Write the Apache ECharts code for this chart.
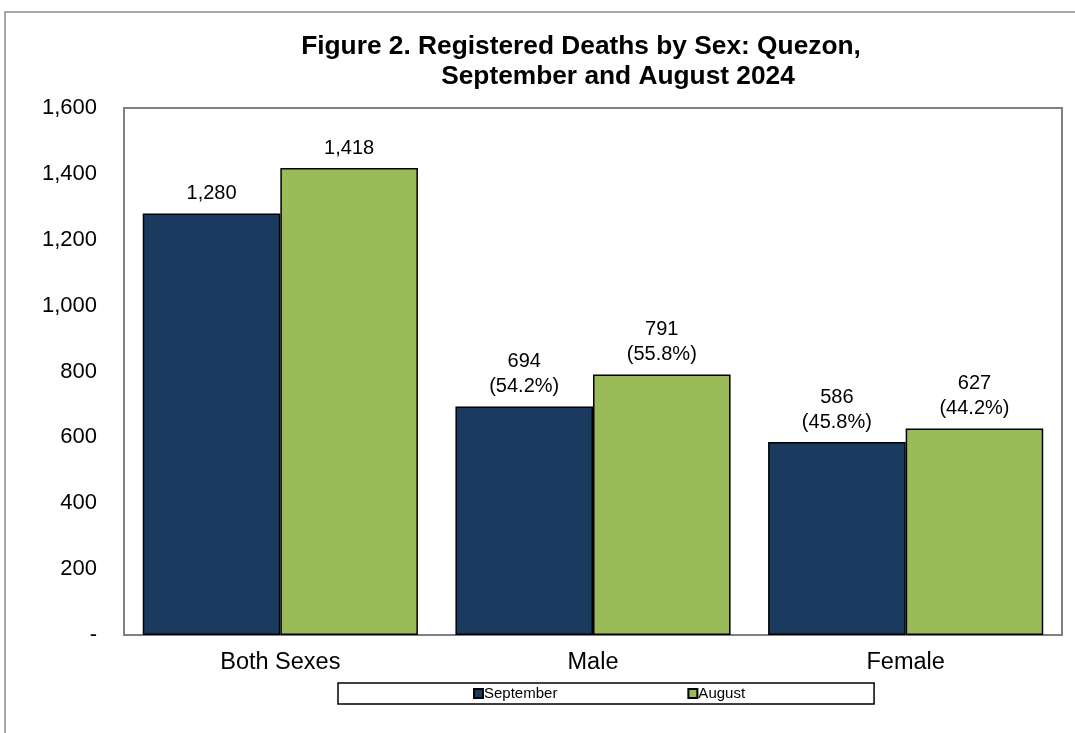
<!DOCTYPE html>
<html>
<head>
<meta charset="utf-8">
<script src="https://cdn.jsdelivr.net/npm/echarts@6/dist/echarts.min.js"></script>
<style>html,body{margin:0;padding:0;background:#fff;}#c{width:1075px;height:733px;}</style>
</head>
<body>
<div id="c"></div>
<script>
const categories = ['Both Sexes', 'Male', 'Female'];
const september = [1280, 694, 586];
const august = [1418, 791, 627];
const septemberPct = ['', '54.2%', '45.8%'];
const augustPct = ['', '55.8%', '44.2%'];
const yTicks = [0, 200, 400, 600, 800, 1000, 1200, 1400, 1600];

const fmt = v => v === 0 ? '-' : v.toLocaleString('en-US');
function labelFor(pcts) {
  return p => {
    const pc = pcts[p.dataIndex];
    return pc ? fmt(p.value) + '\n(' + pc + ')' : fmt(p.value);
  };
}

const chart = echarts.init(document.getElementById('c'));
const font = 'Arial, "Liberation Sans", sans-serif';
chart.setOption({
  animation: false,
  backgroundColor: '#fff',
  textStyle: { fontFamily: font },
  graphic: [{
    type: 'rect', silent: true, z: -10,
    shape: { x: 5, y: 12, width: 1200, height: 900 },
    style: { fill: 'none', stroke: '#8c8c8c', lineWidth: 1.5 }
  }],
  title: [{
    text: 'Figure 2. Registered Deaths by Sex: Quezon,',
    left: 576, top: 29, textAlign: 'center',
    textStyle: { fontFamily: font, fontSize: 26.3, fontWeight: 'bold', color: '#000' }
  }, {
    text: 'September and August 2024',
    left: 613, top: 59, textAlign: 'center',
    textStyle: { fontFamily: font, fontSize: 26.3, fontWeight: 'bold', color: '#000' }
  }],
  legend: {
    left: 338, top: 683,
    data: ['September', 'August'],
    icon: 'rect', itemWidth: 9, itemHeight: 9, itemGap: 130,
    padding: [3, 129, 3, 135],
    borderColor: '#000', borderWidth: 1.5,
    textStyle: { fontFamily: font, fontSize: 15, color: '#000', padding: [0, 0, 0, -4] }
  },
  grid: {
    left: 124, right: 13, top: 108, bottom: 98,
    show: true, borderColor: '#808080', borderWidth: 2, containLabel: false
  },
  xAxis: {
    type: 'category', data: categories,
    axisLine: { show: false }, axisTick: { show: false },
    axisLabel: { fontFamily: font, fontSize: 23.5, color: '#000', margin: 16 }
  },
  yAxis: {
    type: 'value', min: 0, max: 1600, interval: 200,
    splitLine: { show: false }, axisLine: { show: false }, axisTick: { show: false },
    axisLabel: { fontFamily: font, fontSize: 22, color: '#000', margin: 27, formatter: fmt }
  },
  series: [{
    name: 'September', type: 'bar', data: september,
    barGap: '0%', barCategoryGap: '12%',
    itemStyle: { color: '#1B3A5F', borderColor: '#000', borderWidth: 1.5 },
    label: { show: true, position: 'top', distance: 7, fontFamily: font, fontSize: 20, color: '#000', lineHeight: 25, formatter: labelFor(septemberPct) }
  }, {
    name: 'August', type: 'bar', data: august,
    itemStyle: { color: '#9BBB59', borderColor: '#000', borderWidth: 1.5 },
    label: { show: true, position: 'top', distance: 7, fontFamily: font, fontSize: 20, color: '#000', lineHeight: 25, formatter: labelFor(augustPct) }
  }]
});
</script>
</body>
</html>
